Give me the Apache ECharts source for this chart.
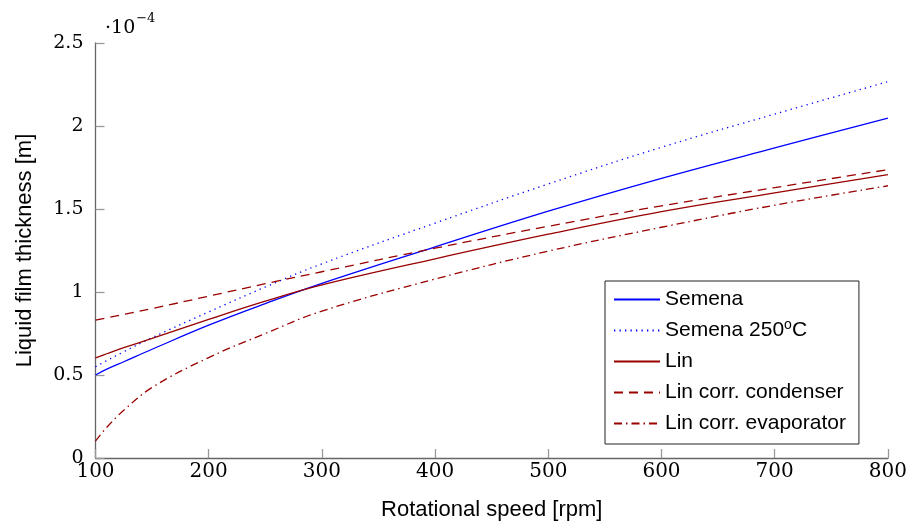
<!DOCTYPE html>
<html>
<head>
<meta charset="utf-8">
<script src="https://cdn.jsdelivr.net/npm/echarts@6/dist/echarts.min.js"></script>
<style>
  html, body { margin: 0; padding: 0; background: #fff; }
  #chart { width: 910px; height: 527px; }
</style>
</head>
<body>
<div id="chart"></div>
<script>
// Rotational speed [rpm]
const rpm = [100, 110, 125, 150, 200, 250, 300, 400, 500, 600, 700, 800];
// Liquid film thickness, in units of 1e-4 m
const semena        = [0.50, 0.535, 0.58, 0.655, 0.80, 0.93, 1.052, 1.272, 1.487, 1.685, 1.868, 2.047];
const semena250     = [0.55, 0.587, 0.64, 0.725, 0.88, 1.03, 1.17, 1.415, 1.651, 1.872, 2.072, 2.267];
const lin           = [0.603, 0.628, 0.665, 0.72, 0.835, 0.945, 1.043, 1.20, 1.348, 1.484, 1.597, 1.707];
const linCondenser  = [0.83, 0.844, 0.865, 0.90, 0.975, 1.05, 1.122, 1.264, 1.396, 1.519, 1.629, 1.737];
const linEvaporator = [0.102, 0.185, 0.288, 0.425, 0.605, 0.75, 0.885, 1.078, 1.246, 1.39, 1.523, 1.64];

const xTicks = { min: 100, max: 800, interval: 100 };
const yTicks = { min: 0, max: 2.5, interval: 0.5 };

const names = ['Semena', 'Semena 250oC', 'Lin', 'Lin corr. condenser', 'Lin corr. evaporator'];

function pairs(ys) { return rpm.map((x, i) => [x, ys[i]]); }

const BLUE = '#0000ff';
const RED = '#990000';

const chart = echarts.init(document.getElementById('chart'), null, { renderer: 'canvas' });

function mkSeries(name, ys, color, type) {
  return {
    name: name,
    type: 'line',
    data: pairs(ys),
    showSymbol: false,
    symbol: 'none',
    smooth: 0.4,
    animation: false,
    lineStyle: { color: color, width: 1.3, type: type, cap: 'butt' },
    itemStyle: { color: color }
  };
}

chart.setOption({
  animation: false,
  backgroundColor: '#ffffff',
  title: {
    text: '{a|·10}{b|−4}',
    left: 100,
    top: 7,
    textStyle: {
      fontWeight: 'normal',
      rich: {
        a: { fontFamily: 'DejaVu Serif', fontWeight: 'normal', fontSize: 19, color: '#000', lineHeight: 26, verticalAlign: 'bottom' },
        b: { fontFamily: 'DejaVu Serif', fontWeight: 'normal', fontSize: 13, color: '#000', lineHeight: 26, verticalAlign: 'top', padding: [0, 0, 0, 1] }
      }
    }
  },
  grid: { left: 95.5, right: 19.5, top: 43, bottom: 69, containLabel: false },
  legend: {
    orient: 'vertical',
    left: 605,
    top: 281,
    padding: [6, 13, 8, 8],
    itemGap: 6,
    itemWidth: 46,
    itemHeight: 14,
    backgroundColor: '#ffffff',
    borderColor: '#222222',
    borderWidth: 1,
    borderRadius: 0,
    itemStyle: { opacity: 0 },
    data: names,
    formatter: function (n) {
      if (n === 'Semena 250oC') return 'Semena 250{sup|o}C';
      return n;
    },
    textStyle: {
      fontFamily: 'Liberation Sans',
      fontSize: 21,
      color: '#000',
      lineHeight: 25,
      rich: {
        sup: { fontFamily: 'Liberation Sans', fontSize: 14, color: '#000', lineHeight: 25, verticalAlign: 'top' }
      }
    }
  },
  xAxis: {
    type: 'value',
    min: xTicks.min, max: xTicks.max, interval: xTicks.interval,
    name: 'Rotational speed [rpm]',
    nameLocation: 'middle',
    nameGap: 41,
    nameTextStyle: { fontFamily: 'Liberation Sans', fontSize: 22, color: '#000' },
    axisLine: { show: true, onZero: false, lineStyle: { color: '#666', width: 1.3 } },
    axisTick: { show: true, inside: true, length: 9, lineStyle: { color: '#999', width: 1.3 } },
    axisLabel: { fontFamily: 'DejaVu Serif', fontSize: 20, color: '#000', margin: 4 },
    splitLine: { show: false }
  },
  yAxis: {
    type: 'value',
    min: yTicks.min, max: yTicks.max, interval: yTicks.interval,
    name: 'Liquid film thickness [m]',
    nameLocation: 'middle',
    nameGap: 60,
    nameTextStyle: { fontFamily: 'Liberation Sans', fontSize: 22, color: '#000' },
    axisLine: { show: true, onZero: false, lineStyle: { color: '#666', width: 1.3 } },
    axisTick: { show: true, inside: true, length: 9, lineStyle: { color: '#999', width: 1.3 } },
    axisLabel: { fontFamily: 'DejaVu Serif', fontSize: 19, color: '#000', margin: 12 },
    splitLine: { show: false }
  },
  series: [
    mkSeries(names[0], semena, BLUE, 'solid'),
    mkSeries(names[1], semena250, BLUE, [1.3, 4.2]),
    mkSeries(names[2], lin, RED, 'solid'),
    mkSeries(names[3], linCondenser, RED, [9, 6]),
    mkSeries(names[4], linEvaporator, RED, [8, 4, 1.5, 4])
  ]
});
</script>
</body>
</html>
